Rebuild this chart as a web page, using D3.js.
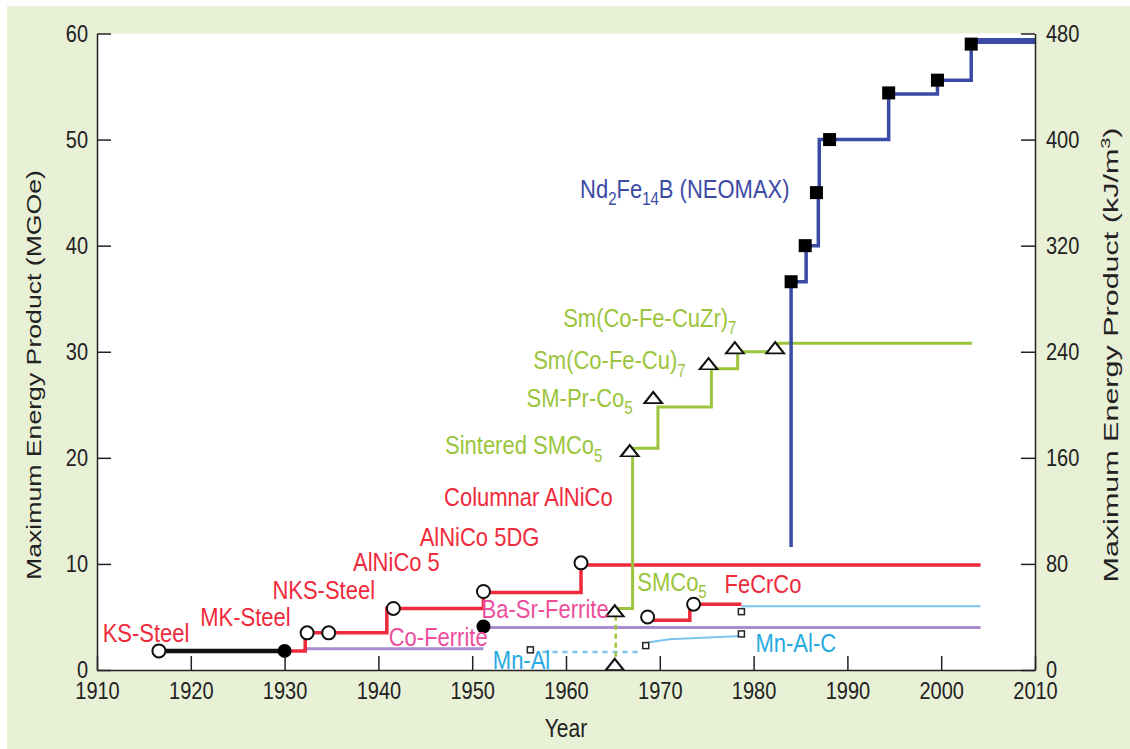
<!DOCTYPE html>
<html>
<head>
<meta charset="utf-8">
<script src="https://cdn.jsdelivr.net/npm/d3@7"></script>
<style>
  body { margin: 0; background: #fff; }
  svg text { font-family: "Liberation Sans", Arial, Helvetica, sans-serif; }
</style>
</head>
<body>
<svg id="chart" width="1130" height="749"></svg>
<script>
// ---- data (year, MGOe) ----
const ksMkSteel      = [[1916.6, 1.8], [1930.0, 1.8]];
const alnicoSteps    = [[1930.0, 1.8], [1932.2, 3.5], [1940.9, 5.8], [1951.2, 7.3], [1961.6, 9.9], [2004.2, 9.9]];
const alnicoMarkers  = [[1916.6, 1.8], [1932.4, 3.5], [1934.7, 3.5], [1941.6, 5.8], [1951.2, 7.4], [1961.6, 10.1]];
const filledCircles  = [[1930.0, 1.8], [1951.2, 4.1]];
const fecrcoSteps    = [[1968.6, 4.7], [1973.2, 6.2], [1978.7, 6.2]];
const fecrcoMarkers  = [[1968.7, 5.0], [1973.6, 6.2]];
const coFerrite      = [[1932.0, 2.0], [1951.2, 2.0]];
const baSrFerrite    = [[1951.2, 4.0], [2004.2, 4.0]];
const mnAlDashed     = [[1957.5, 1.7], [1968.0, 1.7]];
const mnAlSolid      = [[1968.7, 2.6], [1971.0, 2.9], [1978.7, 3.2]];
const mnAlC          = [[1978.7, 6.0], [2004.2, 6.0]];
const mnAlMarkers    = [[1956.2, 1.9], [1968.5, 2.3], [1978.7, 3.4], [1978.7, 5.5]];
const smcoDashed     = [[1965.3, 0.4], [1965.3, 5.3]];
const smcoSteps      = [[1965.3, 5.8], [1967.1, 20.9], [1969.8, 24.8], [1975.5, 28.4], [1978.3, 30.0], [1982.6, 30.8], [2003.3, 30.8]];
const smcoMarkers    = [[1965.2, 0.35], [1965.2, 5.4], [1966.8, 20.5], [1969.3, 25.5], [1975.2, 28.7], [1978.0, 30.2], [1982.3, 30.2]];
const ndfebSteps     = [[1984.0, 11.6], [1984.0, 36.6], [1985.6, 40.0], [1986.9, 45.0], [1987.0, 50.0], [1994.4, 54.3], [1999.6, 55.6], [2003.2, 58.9]];
const ndfebTop       = [[2003.2, 59.3], [2010.0, 59.3]];
const ndfebMarkers   = [[1984.0, 36.6], [1985.5, 40.0], [1986.7, 45.0], [1988.1, 50.0], [1994.4, 54.4], [1999.6, 55.6], [2003.2, 59.0]];

const yearTicks = d3.range(1910, 2011, 10);
const mgoeTicks = [0, 10, 20, 30, 40, 50, 60];
const kjTicks   = [0, 80, 160, 240, 320, 400, 480];

// labels: "_n" = subscript
const labelTexts  = ["KS-Steel", "MK-Steel", "NKS-Steel", "AlNiCo 5", "AlNiCo 5DG", "Columnar AlNiCo",
                     "Ba-Sr-Ferrite", "Co-Ferrite", "Mn-Al", "SMCo_5", "FeCrCo", "Mn-Al-C",
                     "Sintered SMCo_5", "SM-Pr-Co_5", "Sm(Co-Fe-Cu)_7", "Sm(Co-Fe-CuZr)_7", "Nd_2Fe_14B (NEOMAX)"];
const labelYears  = [1910.6, 1921.0, 1928.7, 1937.3, 1944.4, 1947.0,
                     1951.0, 1941.1, 1952.2, 1967.6, 1976.9, 1980.2,
                     1947.1, 1955.8, 1956.5, 1959.7, 1961.5];
const labelValues = [3.5, 5.0, 7.6, 10.2, 12.6, 16.3,
                     5.75, 3.1, 1.0, 8.3, 8.1, 2.6,
                     21.2, 25.7, 29.2, 33.2, 45.4];
const labelGroups = ["red", "red", "red", "red", "red", "red",
                     "pink", "pink", "cyan", "green", "red", "cyan",
                     "green", "green", "green", "green", "blue"];

const colors = {
  red: "#ef2a3c", green: "#9bc53d", blue: "#3b4ba5", pink: "#ec4e9c",
  cyan: "#27aae1", cyanLine: "#7cc4ec", purple: "#a98bd2", black: "#111"
};

// ---- layout ----
const W = 1130, H = 749;
const plot = { left: 97, right: 1035, top: 33.5, bottom: 670 };
const stretch = 1.2;   // text in the source looks taller than wide

const svg = d3.select("#chart");

svg.append("rect").attr("width", W).attr("height", H).attr("fill", "#fff");
svg.append("rect")
  .attr("x", 7).attr("y", 6).attr("width", W - 7).attr("height", H - 6)
  .attr("fill", "#e8f0d6");
svg.append("rect")
  .attr("x", plot.left).attr("y", plot.top)
  .attr("width", plot.right - plot.left).attr("height", plot.bottom - plot.top)
  .attr("fill", "#fff");

const x = d3.scaleLinear().domain([1910, 2010]).range([plot.left, plot.right]);
const y = d3.scaleLinear().domain([0, 60]).range([plot.bottom, plot.top]);
const yKj = d3.scaleLinear().domain([0, 480]).range([plot.bottom, plot.top]);

const line = d3.line().x(d => x(d[0])).y(d => y(d[1]));
const stepLine = d3.line().x(d => x(d[0])).y(d => y(d[1])).curve(d3.curveStepAfter);

const g = svg.append("g");

function drawPath(data, gen, color, width, dash) {
  g.append("path")
    .datum(data)
    .attr("d", gen)
    .attr("fill", "none")
    .attr("stroke", color)
    .attr("stroke-width", width)
    .attr("stroke-dasharray", dash || null);
}

// lines
drawPath(coFerrite, line, colors.purple, 3);
drawPath(baSrFerrite, line, colors.purple, 3);
drawPath(mnAlDashed, line, colors.cyanLine, 2.5, "5,5");
drawPath(mnAlSolid, line, colors.cyanLine, 2);
drawPath(mnAlC, line, colors.cyanLine, 2);
drawPath(alnicoSteps, stepLine, colors.red, 3.5);
drawPath(fecrcoSteps, stepLine, colors.red, 3.5);
drawPath(ksMkSteel, line, colors.black, 4.5);
drawPath(smcoDashed, line, colors.green, 2.5, "5,4");
drawPath(smcoSteps, stepLine, colors.green, 3);
drawPath(ndfebSteps, stepLine, colors.blue, 3.5);
drawPath(ndfebTop, line, colors.blue, 6);

// markers
g.selectAll(".hollow-circle").data(alnicoMarkers.concat(fecrcoMarkers)).enter()
  .append("circle")
  .attr("cx", d => x(d[0])).attr("cy", d => y(d[1])).attr("r", 6.5)
  .attr("fill", "#fff").attr("stroke", "#111").attr("stroke-width", 2);

g.selectAll(".filled-circle").data(filledCircles).enter()
  .append("circle")
  .attr("cx", d => x(d[0])).attr("cy", d => y(d[1])).attr("r", 7)
  .attr("fill", "#000");

g.selectAll(".small-square").data(mnAlMarkers).enter()
  .append("rect")
  .attr("x", d => x(d[0]) - 3).attr("y", d => y(d[1]) - 3)
  .attr("width", 6).attr("height", 6)
  .attr("fill", "#fff").attr("stroke", "#222").attr("stroke-width", 1.5);

const tri = d3.symbol().type(d3.symbolTriangle).size(80);
g.selectAll(".triangle").data(smcoMarkers).enter()
  .append("path")
  .attr("d", tri)
  .attr("transform", d => `translate(${x(d[0])},${y(d[1])}) scale(1.3,0.95)`)
  .attr("fill", "#fff").attr("stroke", "#111").attr("stroke-width", 1.8);

g.selectAll(".big-square").data(ndfebMarkers).enter()
  .append("rect")
  .attr("x", d => x(d[0]) - 6.5).attr("y", d => y(d[1]) - 6.5)
  .attr("width", 13).attr("height", 13)
  .attr("fill", "#000");

// labels
labelTexts.forEach((t, i) => {
  const txt = svg.append("text")
    .attr("transform", `translate(${x(labelYears[i])},${y(labelValues[i])}) scale(1,${stretch})`)
    .attr("dy", "0.35em")
    .attr("font-size", 22)
    .attr("fill", colors[labelGroups[i]]);
  let shifted = false;
  t.split(/(_\d+)/).filter(s => s.length).forEach(part => {
    if (part[0] === "_") {
      txt.append("tspan").attr("font-size", 15).attr("dy", 6).text(part.slice(1));
      shifted = true;
    } else {
      const ts = txt.append("tspan").text(part);
      if (shifted) { ts.attr("dy", -6); shifted = false; }
    }
  });
});

// axes
function styleAxis(sel) {
  sel.selectAll("path.domain").attr("stroke", "#222").attr("stroke-width", 1.5);
  sel.selectAll(".tick line").attr("stroke", "#222").attr("stroke-width", 1.5);
  sel.selectAll(".tick text").attr("fill", "#222").attr("font-size", 20)
    .attr("font-family", "\"Liberation Sans\", Arial, Helvetica, sans-serif")
    .each(function () {
      const t = d3.select(this);
      const tx = +t.attr("x") || 0, ty = +t.attr("y") || 0;
      t.attr("x", null).attr("y", null)
        .attr("transform", `translate(${tx},${ty}) scale(1,${stretch})`);
    });
}

svg.append("g")
  .attr("transform", `translate(0,${plot.bottom})`)
  .call(d3.axisBottom(x).tickValues(yearTicks).tickFormat(d3.format("d")).tickSizeInner(-14).tickSizeOuter(0).tickPadding(12))
  .call(styleAxis);

svg.append("g")
  .attr("transform", `translate(${plot.left},0)`)
  .call(d3.axisLeft(y).tickValues(mgoeTicks).tickSizeInner(-14).tickSizeOuter(0).tickPadding(9))
  .call(styleAxis);

svg.append("g")
  .attr("transform", `translate(${plot.right},0)`)
  .call(d3.axisRight(yKj).tickValues(kjTicks).tickSizeInner(-14).tickSizeOuter(0).tickPadding(11))
  .call(styleAxis);

// axis titles
svg.append("text")
  .attr("transform", `translate(${x(1960)},737) scale(1,${stretch})`)
  .attr("text-anchor", "middle").attr("font-size", 21).attr("fill", "#222")
  .text("Year");

svg.append("text")
  .attr("transform", `translate(41,375) rotate(-90)`)
  .attr("text-anchor", "middle").attr("font-size", 20).attr("fill", "#222")
  .attr("textLength", 410).attr("lengthAdjust", "spacingAndGlyphs")
  .text("Maximum Energy Product (MGOe)");

const rt = svg.append("text")
  .attr("transform", `translate(1118,355) rotate(-90)`)
  .attr("text-anchor", "middle").attr("font-size", 20).attr("fill", "#222");
rt.append("tspan").text("Maximum Energy Product (kJ/m");
rt.append("tspan").attr("font-size", 13).attr("dy", -8).text("3");
rt.append("tspan").attr("dy", 8).text(")");
rt.attr("textLength", 455).attr("lengthAdjust", "spacingAndGlyphs");
</script>
</body>
</html>
